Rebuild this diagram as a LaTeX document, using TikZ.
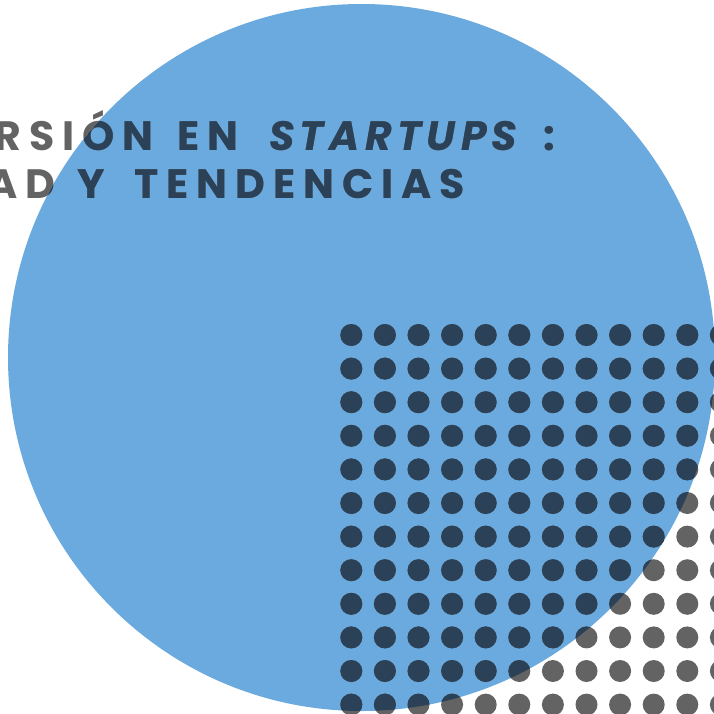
\documentclass[tikz,border=0pt]{standalone}
\usepackage{fontspec}
\setmainfont{Poppins}
\newfontfamily\titlefont[LetterSpace=19.5]{Poppins}
\newfontfamily\titleitfont[LetterSpace=13]{Poppins}
\definecolor{circblue}{HTML}{6AAADE}
\definecolor{navyink}{HTML}{2B4157}
\definecolor{grayink}{HTML}{636363}
\tikzset{
  titlestyle/.style={inner sep=0pt, font=\titlefont\bfseries\fontsize{41}{41}\selectfont},
  titleitstyle/.style={inner sep=0pt, font=\titleitfont\bfseries\itshape\fontsize{41}{41}\selectfont}
}
\newcommand\drawlayer[2]{%
  \foreach \i in {0,...,11}{%
    \foreach \j in {0,...,11}{%
      \fill[#1] (351.3+33.6*\i,335+33.6*\j) circle (11);
    }
  }
  \node[titlestyle, text=#1, anchor=base east] (wInv#2) at (154,150.7) {INVERSIÓN};
  \node[titlestyle, text=#1, anchor=base west] (wEn#2) at (177,150.7) {EN};
  \node[titleitstyle, text=#1, anchor=base west] (wStart#2) at (269,150.7) {STARTUPS};
  \node[titlestyle, text=#1, anchor=base west] (wColon#2) at (543.5,150.7) {:};
  \node[titlestyle, text=#1, anchor=base east] (wAct#2) at (56,198.5) {ACTUALIDAD};
  \node[titlestyle, text=#1, anchor=base west] (wY#2) at (77,198.5) {Y};
  \node[titlestyle, text=#1, anchor=base west] (wTend#2) at (134,198.5) {TENDENCIAS};
}
\begin{document}
\begin{tikzpicture}[x=1pt,y=-1pt]
\useasboundingbox (0,0) rectangle (714,713);
\fill[circblue] (361.5,357.5) circle (353.5);
\drawlayer{grayink}{g}
\begin{scope}
  \clip (361.5,357.5) circle (353.5);
  \drawlayer{navyink}{n}
\end{scope}
\end{tikzpicture}
\end{document}
